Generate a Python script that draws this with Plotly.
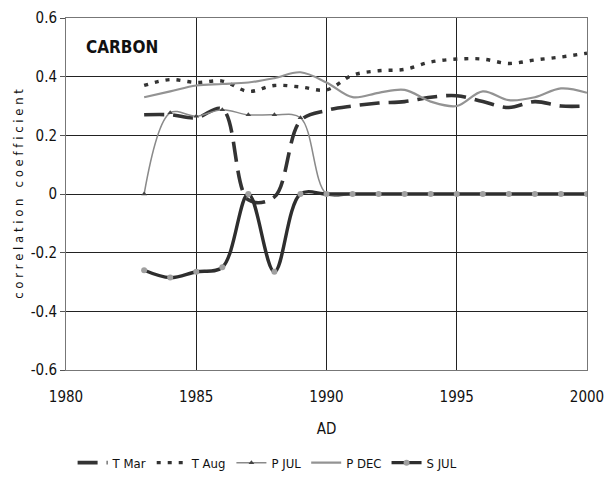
import plotly.graph_objects as go

years = list(range(1983, 2001))
t_mar = [0.27, 0.27, 0.26, 0.29, -0.02, -0.01, 0.25, 0.285, 0.30, 0.31, 0.315, 0.33, 0.335, 0.315, 0.295, 0.315, 0.30, 0.30]
t_aug = [0.37, 0.39, 0.38, 0.385, 0.35, 0.37, 0.365, 0.355, 0.405, 0.42, 0.425, 0.45, 0.46, 0.46, 0.445, 0.457, 0.467, 0.48]
p_jul = [0.0, 0.277, 0.265, 0.287, 0.27, 0.27, 0.26, 0.0, 0, 0, 0, 0, 0, 0, 0, 0, 0, 0]
p_dec = [0.33, 0.35, 0.37, 0.375, 0.38, 0.395, 0.415, 0.38, 0.33, 0.345, 0.355, 0.315, 0.30, 0.35, 0.32, 0.33, 0.36, 0.345]
s_jul = [-0.26, -0.285, -0.265, -0.25, 0.0, -0.265, 0.0, 0.0, 0, 0, 0, 0, 0, 0, 0, 0, 0, 0]

FONT = "Liberation Sans Narrow, Arial Narrow, DejaVu Sans Condensed, Liberation Sans, Arial, sans-serif"

fig = go.Figure()
fig.add_trace(go.Scatter(x=years, y=t_mar, name="T Mar", mode="lines",
                         line=dict(color="#333333", width=3.6, dash="20px,9px", shape="spline", smoothing=1)))
fig.add_trace(go.Scatter(x=years, y=t_aug, name="T Aug", mode="lines",
                         line=dict(color="#333333", width=3.4, dash="4px,7px", shape="spline", smoothing=1)))
fig.add_trace(go.Scatter(x=years, y=p_jul, name="P JUL", mode="lines+markers",
                         line=dict(color="#8a8a8a", width=1.5, shape="spline", smoothing=1),
                         marker=dict(symbol="triangle-up", size=5, color="#444444")))
fig.add_trace(go.Scatter(x=years, y=p_dec, name="P DEC", mode="lines",
                         line=dict(color="#939393", width=2.2, shape="spline", smoothing=1)))
fig.add_trace(go.Scatter(x=years, y=s_jul, name="S JUL", mode="lines+markers",
                         line=dict(color="#2e2e2e", width=3.4, shape="spline", smoothing=1),
                         marker=dict(symbol="circle", size=6, color="#a0a0a0")))

fig.add_annotation(x=1980.7, y=0.50, xref="x", yref="y", text="<b>CARBON</b>", showarrow=False,
                   xanchor="left", yanchor="middle", font=dict(family=FONT, size=17, color="#111111"))

fig.update_layout(
    width=605, height=479,
    margin=dict(l=66, r=18, t=18, b=109, autoexpand=False),
    paper_bgcolor="white", plot_bgcolor="white",
    font=dict(family=FONT, size=14, color="#111111"),
    showlegend=True,
    legend=dict(orientation="h", x=0.12, xanchor="left", xref="container",
                y=0.034, yanchor="middle", yref="container",
                font=dict(family=FONT, size=13), itemwidth=30, tracegroupgap=0,
                bgcolor="rgba(0,0,0,0)"),
    xaxis=dict(range=[1980, 2000], tickvals=[1980, 1985, 1990, 1995, 2000],
               showgrid=True, gridcolor="#222222", gridwidth=1,
               showline=True, linecolor="#777777", mirror=True, linewidth=1,
               zeroline=False, ticks="", tickfont=dict(size=15), automargin=False,
               ticklabelstandoff=13,
               title=dict(text="AD", font=dict(size=15), standoff=18)),
    yaxis=dict(range=[-0.6, 0.6], tickvals=[-0.6, -0.4, -0.2, 0, 0.2, 0.4, 0.6],
               ticktext=["-0.6", "-0.4", "-0.2", "0", "0.2", "0.4", "0.6"],
               showgrid=True, gridcolor="#222222", gridwidth=1,
               showline=True, linecolor="#777777", mirror=True, linewidth=1,
               zeroline=False, ticks="outside", ticklen=5, tickcolor="#555555",
               tickfont=dict(size=15), automargin=False,
               title=dict(text="c o r r e l a t i o n   c o e f f i c i e n t", font=dict(size=13), standoff=4)),
)

fig.write_html("out.html")
